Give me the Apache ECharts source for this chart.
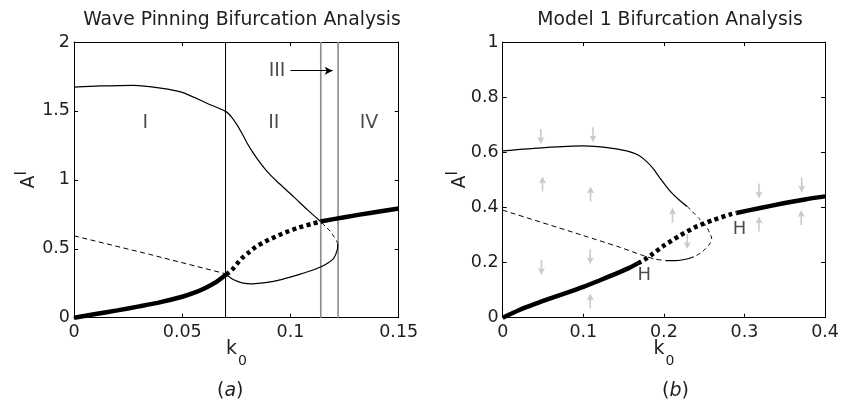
<!DOCTYPE html>
<html>
<head>
<meta charset="utf-8">
<script src="https://cdn.jsdelivr.net/npm/echarts@6/dist/echarts.min.js"></script>
<style>
html, body { margin: 0; padding: 0; background: #fff; }
#chart { width: 842px; height: 403px; }
</style>
</head>
<body>
<div id="chart"></div>
<script>
// (a) wave pinning branches, [k0, A]
const wpLowStable = [[0,0],[0.01,0.027],[0.02,0.053],[0.03,0.082],[0.04,0.113],[0.05,0.152],[0.055,0.178],[0.06,0.21],[0.065,0.252],[0.0702,0.312]];
const wpUnstable = [[0.0702,0.312],[0.073,0.348],[0.0753,0.391],[0.0776,0.432],[0.0807,0.473],[0.0838,0.512],[0.087,0.541],[0.09,0.565],[0.0962,0.609],[0.1031,0.65],[0.11,0.681],[0.1139,0.698]];
const wpHighStable = [[0.1139,0.698],[0.125,0.729],[0.1375,0.762],[0.15,0.792]];
const wpUpper = [[0,1.672],[0.012,1.681],[0.0275,1.686],[0.04,1.666],[0.05,1.635],[0.0614,1.556],[0.0702,1.495],[0.0728,1.455],[0.0753,1.399],[0.0777,1.335],[0.08,1.266],[0.083,1.19],[0.0861,1.121],[0.0898,1.05],[0.0938,0.988],[0.1016,0.875],[0.108,0.78],[0.1139,0.698]];
const wpMiddle = [[0,0.594],[0.035,0.459],[0.0702,0.318]];
const wpLoop = [[0.0702,0.312],[0.0712,0.302],[0.0738,0.275],[0.0776,0.253],[0.0823,0.246],[0.0884,0.254],[0.0962,0.278],[0.1038,0.312],[0.1116,0.353],[0.1162,0.386],[0.12,0.432],[0.1216,0.49],[0.1219,0.535]];
const wpLoopDash = [[0.1219,0.535],[0.1212,0.56],[0.1205,0.578],[0.1185,0.625],[0.1162,0.661],[0.1139,0.698]];
const wpBoundaries = [0.07, 0.114, 0.122];
const wpRegionNames = ['I', 'II', 'III', 'IV'];
const wpRegionK = [0.0329, 0.0923, 0.0938, 0.1363];
const wpRegionA = [1.41, 1.41, 1.792, 1.41];
const wpArrowIII = [[0.1, 1.792], [0.1195, 1.792]];

// (b) model 1 branches, [k0, A]
const m1LowStable = [[0,0],[0.02,0.027],[0.04,0.05],[0.06,0.071],[0.08,0.091],[0.1,0.112],[0.12,0.135],[0.14,0.159],[0.155,0.178],[0.1675,0.197]];
const m1Unstable = [[0.1675,0.197],[0.1757,0.21],[0.184,0.227],[0.2004,0.262],[0.221,0.3],[0.2415,0.332],[0.262,0.355],[0.2827,0.375],[0.29,0.38]];
const m1HighStable = [[0.29,0.38],[0.318,0.397],[0.35,0.416],[0.375,0.429],[0.4,0.44]];
const m1Upper = [[0,0.605],[0.052,0.617],[0.1,0.623],[0.13,0.617],[0.155,0.604],[0.168,0.59],[0.178,0.568],[0.187,0.54],[0.194,0.511],[0.2066,0.463],[0.219,0.427],[0.229,0.403]];
const m1UpperDash = [[0.229,0.403],[0.2353,0.385],[0.2436,0.36],[0.2498,0.342],[0.254,0.324],[0.258,0.3],[0.2593,0.288],[0.258,0.275],[0.256,0.264],[0.2477,0.239],[0.2395,0.224],[0.237,0.221]];
const m1LoopSolid = [[0.237,0.221],[0.2272,0.212],[0.2148,0.207],[0.2025,0.207]];
const m1Middle = [[0,0.39],[0.1,0.298],[0.1448,0.256],[0.1757,0.224],[0.19,0.212],[0.2025,0.207]];
const m1ArrowUp = [[0.0494,0.485],[0.109,0.449],[0.1086,0.061],[0.2107,0.3725],[0.318,0.34],[0.3704,0.363]];
const m1ArrowDown = [[0.0473,0.657],[0.112,0.664],[0.048,0.182],[0.1086,0.221],[0.229,0.276],[0.318,0.46],[0.371,0.481]];
const m1HopfNames = ['H', 'H'];
const m1HopfPos = [[0.1757,0.155],[0.2938,0.3206]];

const font = 'DejaVu Sans';
const ink = '#1e1e1e';
const arrowPath = 'path://M4,0L8,6.5L4.9,5.6L4.9,14L3.1,14L3.1,5.6L0,6.5Z';

function curve(g, data, width, dash, color, smooth) {
  return {
    type: 'line', xAxisIndex: g * 2, yAxisIndex: g * 2, data: data,
    showSymbol: false, symbol: 'none', smooth: smooth === undefined ? 0.25 : smooth,
    silent: true, animation: false,
    lineStyle: { color: color || '#000', width: width, type: dash || 'solid', cap: 'butt' }
  };
}

function xAxes(g, max, step) {
  const base = {
    gridIndex: g, type: 'value', min: 0, max: max, interval: step,
    splitLine: { show: false },
    axisLine: { show: true, onZero: false, lineStyle: { color: '#000', width: 1 } },
    axisTick: { show: true, inside: true, length: 4, lineStyle: { color: '#000' } }
  };
  return [
    Object.assign({}, base, {
      position: 'bottom',
      axisLabel: { margin: 6, fontSize: 17.5, color: ink, fontFamily: font },
      name: '{k|k}{s|0}', nameLocation: 'middle', nameGap: 22, nameMoveOverlap: false,
      nameTextStyle: { fontFamily: font, color: ink, rich: {
        k: { fontSize: 19, fontFamily: font, color: ink, verticalAlign: 'top', lineHeight: 29 },
        s: { fontSize: 14, fontFamily: font, color: ink, verticalAlign: 'bottom', padding: [0, 0, 0, 1] }
      } }
    }),
    Object.assign({}, base, { position: 'top', axisLabel: { show: false } })
  ];
}

function yAxes(g, max, step, gap) {
  const base = {
    gridIndex: g, type: 'value', min: 0, max: max, interval: step,
    splitLine: { show: false },
    axisLine: { show: true, onZero: false, lineStyle: { color: '#000', width: 1 } },
    axisTick: { show: true, inside: true, length: 4, lineStyle: { color: '#000' } }
  };
  return [
    Object.assign({}, base, {
      position: 'left',
      axisLabel: { margin: 4, fontSize: 17.5, color: ink, fontFamily: font },
      name: '{a|A}{s|I}', nameLocation: 'middle', nameRotate: 90, nameGap: gap, nameMoveOverlap: false,
      nameTextStyle: { fontFamily: font, color: ink, rich: {
        a: { fontSize: 19, fontFamily: font, color: ink, verticalAlign: 'bottom', lineHeight: 24 },
        s: { fontSize: 15, fontFamily: font, color: ink, verticalAlign: 'top', lineHeight: 15 }
      } }
    }),
    Object.assign({}, base, { position: 'right', axisLabel: { show: false } })
  ];
}

const chart = echarts.init(document.getElementById('chart'), null, { renderer: 'canvas' });

const series = [
  // boundaries between regions in (a)
  curve(0, [[wpBoundaries[0], 0], [wpBoundaries[0], 2]], 1, 'solid', '#000', false),
  curve(0, [[wpBoundaries[1], 0], [wpBoundaries[1], 2]], 1.6, 'solid', '#8c8c8c', false),
  curve(0, [[wpBoundaries[2], 0], [wpBoundaries[2], 2]], 1.6, 'solid', '#8c8c8c', false),
  curve(0, wpMiddle, 1, [5, 3.5], '#000', false),
  curve(0, wpUpper, 1.2),
  curve(0, wpLoop, 1.2),
  curve(0, wpLoopDash, 1, [4, 3.5]),
  curve(0, wpLowStable, 4.5),
  curve(0, wpUnstable, 4.5, [4, 3.4]),
  curve(0, wpHighStable, 4.5),
  {
    type: 'scatter', xAxisIndex: 0, yAxisIndex: 0, symbolSize: 0, silent: true, animation: false,
    data: wpRegionNames.map((n, i) => ({ name: n, value: [wpRegionK[i], wpRegionA[i]] })),
    label: { show: true, position: 'inside', formatter: '{b}', fontSize: 19, fontFamily: font, color: ink },
    markLine: {
      silent: true, animation: false, symbol: ['none', 'arrow'], symbolSize: [6, 8],
      label: { show: false },
      lineStyle: { color: '#000', width: 1, type: 'solid' },
      data: [[{ coord: wpArrowIII[0] }, { coord: wpArrowIII[1] }]]
    }
  },
  // (b)
  {
    type: 'scatter', xAxisIndex: 2, yAxisIndex: 2, silent: true, animation: false,
    symbol: arrowPath, symbolSize: [7, 15], symbolKeepAspect: false,
    itemStyle: { color: '#bdbdbd' }, data: m1ArrowUp
  },
  {
    type: 'scatter', xAxisIndex: 2, yAxisIndex: 2, silent: true, animation: false,
    symbol: arrowPath, symbolSize: [7, 15], symbolRotate: 180, symbolKeepAspect: false,
    itemStyle: { color: '#bdbdbd' }, data: m1ArrowDown
  },
  curve(1, m1Middle, 1, [5, 3.5]),
  curve(1, m1Upper, 1.2),
  curve(1, m1UpperDash, 1, [4, 3.5]),
  curve(1, m1LoopSolid, 1.2),
  curve(1, m1LowStable, 4.5),
  curve(1, m1Unstable, 4.5, [4, 3.4]),
  curve(1, m1HighStable, 4.5),
  {
    type: 'scatter', xAxisIndex: 2, yAxisIndex: 2, symbolSize: 0, silent: true, animation: false,
    data: m1HopfNames.map((n, i) => ({ name: n, value: m1HopfPos[i] })),
    label: { show: true, position: 'inside', formatter: '{b}', fontSize: 18, fontFamily: font, color: ink }
  }
];

const option = {
  animation: false,
  backgroundColor: '#fff',
  textStyle: { fontFamily: font },
  title: [
    { text: 'Wave Pinning Bifurcation Analysis', left: 237, top: 6, textAlign: 'center',
      textStyle: { fontSize: 18.8, fontWeight: 'normal', color: ink, fontFamily: font } },
    { text: 'Model 1 Bifurcation Analysis', left: 665, top: 6, textAlign: 'center',
      textStyle: { fontSize: 18.8, fontWeight: 'normal', color: ink, fontFamily: font } }
  ],
  grid: [
    { left: 74, top: 42, width: 324.7, height: 275.7 },
    { left: 502.7, top: 42, width: 324, height: 275.7 }
  ],
  xAxis: xAxes(0, 0.15, 0.05).concat(xAxes(1, 0.4, 0.1)),
  yAxis: yAxes(0, 2, 0.5, 35).concat(yAxes(1, 1, 0.2, 32.7)),
  graphic: [
    { type: 'text', left: 217, top: 382, style: { text: '({i|a})', fontSize: 19, fontFamily: font, fill: ink,
      rich: { i: { fontStyle: 'italic', fontSize: 19, fontFamily: font, fill: ink } } } },
    { type: 'text', left: 662, top: 382, style: { text: '({i|b})', fontSize: 19, fontFamily: font, fill: ink,
      rich: { i: { fontStyle: 'italic', fontSize: 19, fontFamily: font, fill: ink } } } }
  ],
  series: series
};

chart.setOption(option);
</script>
</body>
</html>
